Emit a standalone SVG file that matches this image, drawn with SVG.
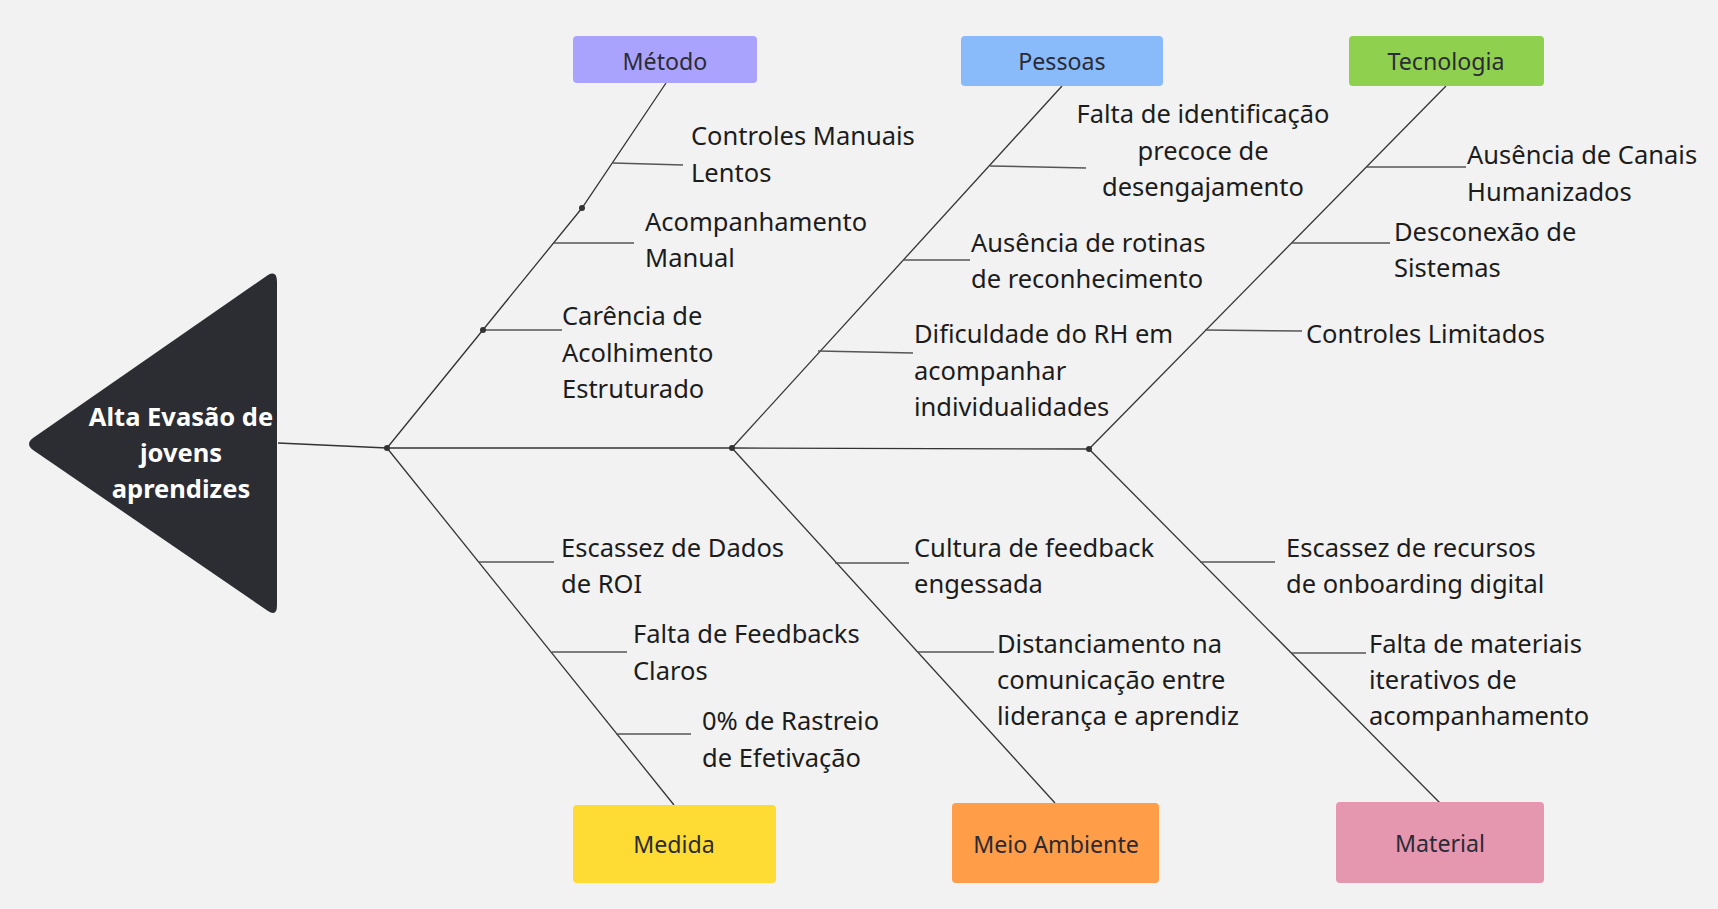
<svg xmlns="http://www.w3.org/2000/svg" width="1718" height="909" viewBox="0 0 1718 909">
<style>
.bg{fill:#f2f2f2}
.cat{font-family:"Noto Sans","Open Sans",sans-serif;font-size:23.2px;fill:#2b2b36;text-anchor:middle}
.t{font-family:"Noto Sans","Open Sans",sans-serif;font-size:25.5px;fill:#1c1c1c}
.tc{font-family:"Noto Sans","Open Sans",sans-serif;font-size:25.5px;fill:#1c1c1c;text-anchor:middle}
.head{font-family:"Noto Sans","Open Sans",sans-serif;font-size:25.5px;font-weight:bold;fill:#ffffff;text-anchor:middle}
.bone{fill:none;stroke:#333333;stroke-width:1.3}
.sub{fill:none;stroke:#555555;stroke-width:1.5}
.dot{fill:#333333}
</style>
<rect class="bg" x="0" y="0" width="1718" height="909"/>
<g id="connectors">
<path class="bone" d="M278,443 L387,448 L732,448 L1089,449"/>
<path class="bone" d="M666,83 L582,208 L387,448"/>
<path class="bone" d="M1062,86 L732,448"/>
<path class="bone" d="M1446,86 L1089,449"/>
<path class="bone" d="M387,448 L674,805"/>
<path class="bone" d="M732,448 L1055,803"/>
<path class="bone" d="M1089,449 L1440,803"/>
<path class="sub" d="M613,163 L683,165"/>
<path class="sub" d="M554,243 L634,243"/>
<path class="sub" d="M483,330 L562,330"/>
<path class="sub" d="M990,166 L1086,168"/>
<path class="sub" d="M904,260 L970,260"/>
<path class="sub" d="M818,351 L913,353"/>
<path class="sub" d="M1367,167 L1466,167"/>
<path class="sub" d="M1291,243 L1390,243"/>
<path class="sub" d="M1205,330 L1302,331"/>
<path class="sub" d="M479,562 L554,562"/>
<path class="sub" d="M552,652 L627,652"/>
<path class="sub" d="M616,734 L691,734"/>
<path class="sub" d="M835,563 L909,563"/>
<path class="sub" d="M917,652 L994,652"/>
<path class="sub" d="M1200,562 L1275,562"/>
<path class="sub" d="M1291,653 L1366,653"/>
<circle class="dot" cx="387" cy="448" r="3"/>
<circle class="dot" cx="732" cy="448" r="3"/>
<circle class="dot" cx="1089" cy="449" r="3"/>
<circle class="dot" cx="582" cy="208" r="3"/>
<circle class="dot" cx="483" cy="330" r="3"/>
</g>
<g id="head">
<path d="M268,275 Q277,270 277,282 L277,605 Q277,617 268,611 L33,450 Q25,444 33,438 Z" fill="#2c2d33"/>
<text class="head" x="181" y="426">Alta Evasão de</text>
<text class="head" x="181" y="462">jovens</text>
<text class="head" x="181" y="498">aprendizes</text>
</g>
<g id="metodo">
<rect x="573" y="36" width="184" height="47" rx="4" fill="#aaa3fd"/>
<text class="cat" x="665" y="70">Método</text>
</g>
<g id="pessoas">
<rect x="961" y="36" width="202" height="50" rx="4" fill="#89bbfb"/>
<text class="cat" x="1062" y="70">Pessoas</text>
</g>
<g id="tecnologia">
<rect x="1349" y="36" width="195" height="50" rx="4" fill="#8fd14f"/>
<text class="cat" x="1446" y="70">Tecnologia</text>
</g>
<g id="medida">
<rect x="573" y="805" width="203" height="78" rx="4" fill="#fedc34"/>
<text class="cat" x="674" y="853">Medida</text>
</g>
<g id="meio-ambiente">
<rect x="952" y="803" width="207" height="80" rx="4" fill="#ff9d48"/>
<text class="cat" x="1056" y="853">Meio Ambiente</text>
</g>
<g id="material">
<rect x="1336" y="802" width="208" height="81" rx="4" fill="#e597b0"/>
<text class="cat" x="1440" y="852">Material</text>
</g>
<g id="causa-controles-manuais"><text class="t" x="691" y="145">Controles Manuais</text><text class="t" x="691" y="182">Lentos</text></g>
<g id="causa-acompanhamento"><text class="t" x="645" y="231">Acompanhamento</text><text class="t" x="645" y="267">Manual</text></g>
<g id="causa-carencia"><text class="t" x="562" y="325">Carência de</text><text class="t" x="562" y="362">Acolhimento</text><text class="t" x="562" y="398">Estruturado</text></g>
<g id="causa-falta-identificacao"><text class="tc" x="1203" y="123">Falta de identificação</text><text class="tc" x="1203" y="160">precoce de</text><text class="tc" x="1203" y="196">desengajamento</text></g>
<g id="causa-rotinas"><text class="t" x="971" y="252">Ausência de rotinas</text><text class="t" x="971" y="288">de reconhecimento</text></g>
<g id="causa-rh"><text class="t" x="914" y="343">Dificuldade do RH em</text><text class="t" x="914" y="380">acompanhar</text><text class="t" x="914" y="416">individualidades</text></g>
<g id="causa-canais"><text class="t" x="1467" y="164">Ausência de Canais</text><text class="t" x="1467" y="201">Humanizados</text></g>
<g id="causa-desconexao"><text class="t" x="1394" y="241">Desconexão de</text><text class="t" x="1394" y="277">Sistemas</text></g>
<g id="causa-controles-limitados"><text class="t" x="1306" y="343">Controles Limitados</text></g>
<g id="causa-roi"><text class="t" x="561" y="557">Escassez de Dados</text><text class="t" x="561" y="593">de ROI</text></g>
<g id="causa-feedbacks"><text class="t" x="633" y="643">Falta de Feedbacks</text><text class="t" x="633" y="680">Claros</text></g>
<g id="causa-rastreio"><text class="t" x="702" y="730">0% de Rastreio</text><text class="t" x="702" y="767">de Efetivação</text></g>
<g id="causa-cultura"><text class="t" x="914" y="557">Cultura de feedback</text><text class="t" x="914" y="593">engessada</text></g>
<g id="causa-distanciamento"><text class="t" x="997" y="653">Distanciamento na</text><text class="t" x="997" y="689">comunicação entre</text><text class="t" x="997" y="725">liderança e aprendiz</text></g>
<g id="causa-onboarding"><text class="t" x="1286" y="557">Escassez de recursos</text><text class="t" x="1286" y="593">de onboarding digital</text></g>
<g id="causa-materiais"><text class="t" x="1369" y="653">Falta de materiais</text><text class="t" x="1369" y="689">iterativos de</text><text class="t" x="1369" y="725">acompanhamento</text></g>
</svg>
